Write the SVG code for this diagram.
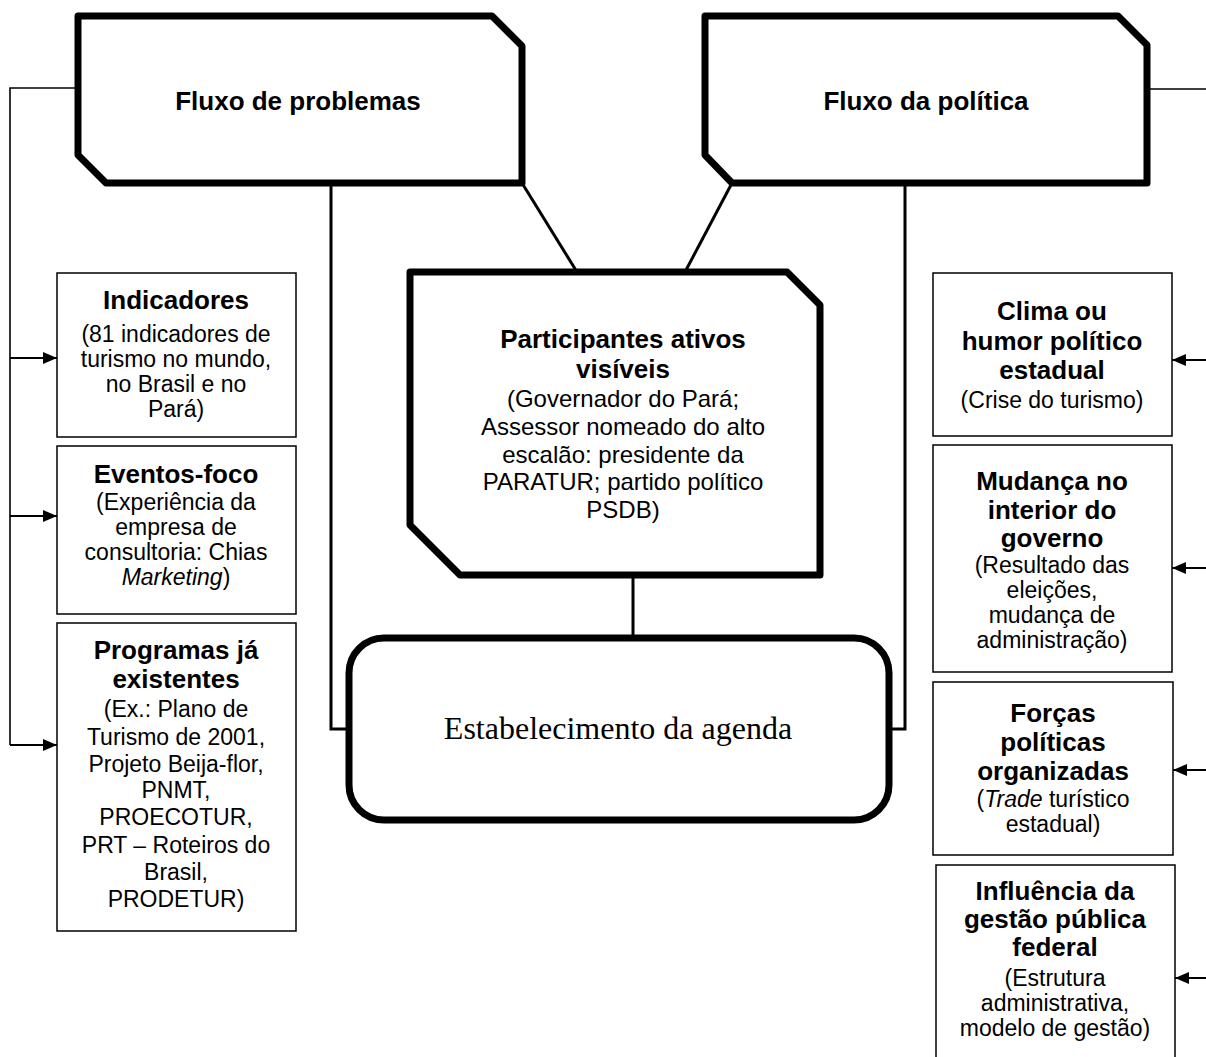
<svg xmlns="http://www.w3.org/2000/svg" width="1206" height="1057" viewBox="0 0 1206 1057">
<defs>
<style>
.thick{fill:#fff;stroke:#000;stroke-width:7;stroke-linejoin:round}
.box{fill:#fff;stroke:#000;stroke-width:1.5}
.ln{fill:none;stroke:#000;stroke-width:1.6}
.lnt{fill:none;stroke:#000;stroke-width:3}
.ar{fill:none;stroke:#000;stroke-width:2;marker-end:url(#ah)}
text{font-family:"Liberation Sans",Arial,sans-serif;text-anchor:middle;fill:#000}
.b{font-weight:bold;font-size:26px}
.n{font-size:23px}
.c{font-size:24px}
.i{font-style:italic}
.serif{font-family:"Liberation Serif","Times New Roman",serif;font-size:32px}
</style>
<marker id="ah" viewBox="0 0 14 12" refX="14" refY="6" markerWidth="14" markerHeight="12" markerUnits="userSpaceOnUse" orient="auto">
<path d="M0,0 L14,6 L0,12 Z" fill="#000"/>
</marker>
</defs>
<rect width="1206" height="1057" fill="#fff"/>

<g id="connectors">
<polyline class="ln" points="78,88 10,88 10,745"/>
<line class="ar" x1="10" y1="358" x2="57" y2="358"/>
<line class="ar" x1="10" y1="516" x2="57" y2="516"/>
<line class="ar" x1="10" y1="745" x2="57" y2="745"/>
<line class="ln" x1="1147" y1="89" x2="1206" y2="89"/>
<line class="ar" x1="1206" y1="360" x2="1172" y2="360"/>
<line class="ar" x1="1206" y1="568" x2="1172" y2="568"/>
<line class="ar" x1="1206" y1="770" x2="1173" y2="770"/>
<line class="ar" x1="1206" y1="978" x2="1175" y2="978"/>
<polyline class="lnt" points="331,183 331,729 349,729"/>
<polyline class="lnt" points="905,183 905,729 889,729"/>
<line class="lnt" x1="522" y1="183" x2="577" y2="272"/>
<line class="lnt" x1="732" y1="183" x2="685" y2="272"/>
<line class="lnt" x1="633" y1="575" x2="633" y2="638"/>
</g>

<g id="fluxo-problemas">
<path class="thick" d="M78,16 H492 L522,46 V183 H106 L78,155 Z"/>
<text class="b" x="298" y="110">Fluxo de problemas</text>
</g>

<g id="fluxo-politica">
<path class="thick" d="M705,16 H1118 L1147,45 V183 H732 L705,155 Z"/>
<text class="b" x="926" y="110">Fluxo da política</text>
</g>

<g id="participantes">
<path class="thick" d="M410,272 H787 L820,305 V575 H460 L410,525 Z"/>
<text class="b" x="623" y="348">Participantes ativos</text>
<text class="b" x="623" y="378">visíveis</text>
<text class="c" x="623" y="407">(Governador do Pará;</text>
<text class="c" x="623" y="435">Assessor nomeado do alto</text>
<text class="c" x="623" y="463">escalão: presidente da</text>
<text class="c" x="623" y="490">PARATUR; partido político</text>
<text class="c" x="623" y="518">PSDB)</text>
</g>

<g id="agenda">
<rect class="thick" x="349" y="638" width="540" height="182" rx="35" ry="35"/>
<text class="serif" x="618" y="739">Estabelecimento da agenda</text>
</g>

<g id="indicadores">
<rect class="box" x="57" y="273" width="239" height="164"/>
<text class="b" x="176" y="309">Indicadores</text>
<text class="n" x="176" y="342">(81 indicadores de</text>
<text class="n" x="176" y="367">turismo no mundo,</text>
<text class="n" x="176" y="392">no Brasil e no</text>
<text class="n" x="176" y="417">Pará)</text>
</g>

<g id="eventos-foco">
<rect class="box" x="57" y="446" width="239" height="168"/>
<text class="b" x="176" y="483">Eventos-foco</text>
<text class="n" x="176" y="510">(Experiência da</text>
<text class="n" x="176" y="535">empresa de</text>
<text class="n" x="176" y="560">consultoria: Chias</text>
<text class="n" x="176" y="585"><tspan class="i">Marketing</tspan>)</text>
</g>

<g id="programas">
<rect class="box" x="57" y="623" width="239" height="308"/>
<text class="b" x="176" y="659">Programas já</text>
<text class="b" x="176" y="688">existentes</text>
<text class="n" x="176" y="717">(Ex.: Plano de</text>
<text class="n" x="176" y="745">Turismo de 2001,</text>
<text class="n" x="176" y="772">Projeto Beija-flor,</text>
<text class="n" x="176" y="798">PNMT,</text>
<text class="n" x="176" y="825">PROECOTUR,</text>
<text class="n" x="176" y="853">PRT – Roteiros do</text>
<text class="n" x="176" y="880">Brasil,</text>
<text class="n" x="176" y="907">PRODETUR)</text>
</g>

<g id="clima">
<rect class="box" x="933" y="273" width="239" height="163"/>
<text class="b" x="1052" y="320">Clima ou</text>
<text class="b" x="1052" y="350">humor político</text>
<text class="b" x="1052" y="379">estadual</text>
<text class="n" x="1052" y="408">(Crise do turismo)</text>
</g>

<g id="mudanca">
<rect class="box" x="933" y="445" width="239" height="227"/>
<text class="b" x="1052" y="490">Mudança no</text>
<text class="b" x="1052" y="519">interior do</text>
<text class="b" x="1052" y="547">governo</text>
<text class="n" x="1052" y="573">(Resultado das</text>
<text class="n" x="1052" y="598">eleições,</text>
<text class="n" x="1052" y="623">mudança de</text>
<text class="n" x="1052" y="648">administração)</text>
</g>

<g id="forcas">
<rect class="box" x="933" y="682" width="240" height="173"/>
<text class="b" x="1053" y="722">Forças</text>
<text class="b" x="1053" y="751">políticas</text>
<text class="b" x="1053" y="780">organizadas</text>
<text class="n" x="1053" y="807">(<tspan class="i">Trade</tspan> turístico</text>
<text class="n" x="1053" y="832">estadual)</text>
</g>

<g id="influencia">
<path class="box" d="M936,1057 V865 H1175 V1057"/>
<text class="b" x="1055" y="900">Influência da</text>
<text class="b" x="1055" y="928">gestão pública</text>
<text class="b" x="1055" y="956">federal</text>
<text class="n" x="1055" y="986">(Estrutura</text>
<text class="n" x="1055" y="1011">administrativa,</text>
<text class="n" x="1055" y="1036">modelo de gestão)</text>
</g>
</svg>
